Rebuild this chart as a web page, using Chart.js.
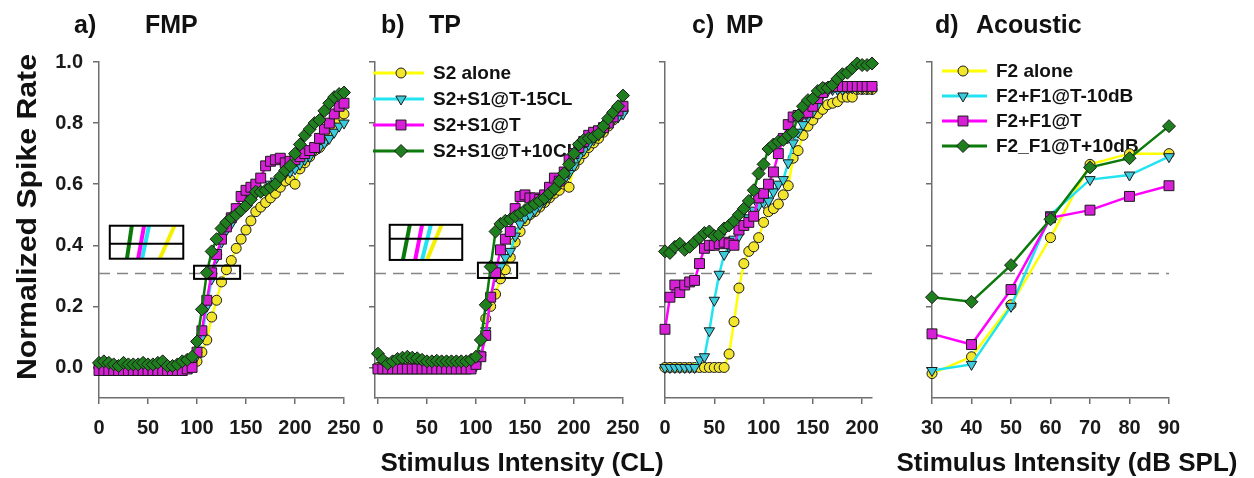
<!DOCTYPE html>
<html>
<head>
<meta charset="utf-8">
<script src="https://cdn.jsdelivr.net/npm/chart.js@4.4.1/dist/chart.umd.min.js"></script>
<style>
  html, body { margin: 0; padding: 0; background: #fff; }
  #wrap { position: relative; width: 1254px; height: 478px; overflow: hidden; font-family: "Liberation Sans", Arial, sans-serif; }
  #wrap canvas { position: absolute; left: 0; top: 0; }
  .lbl { position: absolute; font-weight: bold; color: #111; white-space: nowrap; line-height: 1; }
  .pt { font-size: 25px; top: 12px; }
  .xt { font-size: 26px; top: 449px; width: 500px; text-align: center; }
  .yt { font-size: 28px; width: 400px; text-align: center; left: -173px; top: 203px; transform: rotate(-90deg) scaleX(1.08); }
</style>
</head>
<body>
<div id="wrap">
  <canvas id="cFMP" width="1254" height="478"></canvas>
  <canvas id="cTP" width="1254" height="478"></canvas>
  <canvas id="cMP" width="1254" height="478"></canvas>
  <canvas id="cAc" width="1254" height="478"></canvas>

  <div class="lbl pt" style="left:74px">a)</div>
  <div class="lbl pt" style="left:145px">FMP</div>
  <div class="lbl pt" style="left:381px">b)</div>
  <div class="lbl pt" style="left:429px">TP</div>
  <div class="lbl pt" style="left:692px">c)</div>
  <div class="lbl pt" style="left:726px">MP</div>
  <div class="lbl pt" style="left:935px">d)</div>
  <div class="lbl pt" style="left:976px">Acoustic</div>

  <div class="lbl yt">Normalized Spike Rate</div>
  <div class="lbl xt" style="left:272px">Stimulus Intensity (CL)</div>
  <div class="lbl xt" style="left:817px">Stimulus Intensity (dB SPL)</div>
</div>

<script>
// ===============================
//   DATA
// ===============================
const xCL = [0,5,10,15,20,25,30,35,40,45,50,55,60,65,70,75,80,85,90,95,
             100,105,110,115,120,125,130,135,140,145,150,155,160,165,170,175,180,185,190,195,
             200,205,210,215,220,225,230,235,240,245,250];
const xMP = [0,5,10,15,20,25,30,35,40,45,50,55,60,65,70,75,80,85,90,95,
             100,105,110,115,120,125,130,135,140,145,150,155,160,165,170,175,180,185,190,195,
             200,205,210];
const xDB = [30,40,50,60,70,80,90];

// a) FMP
const fmpAlone = [0,0,0,0,0,0,0,0,0,0, 0,0,0,0,0,0,0,0,0,0.01,
  0.02,0.05,0.09,0.165,0.22,0.28,0.32,0.35,0.39,0.42,
  0.45,0.48,0.51,0.525,0.54,0.555,0.57,0.59,0.61,0.615,
  0.60,0.65,0.67,0.69,0.71,0.72,0.74,0.76,0.79,0.81, 0.83];
const fmpMinus15 = [0,0,0,0,0,0,0,0,0,0, 0,0,0,0,0,0,0,0,0,0.01,
  0.04,0.10,0.20,0.29,0.36,0.41,0.45,0.47,0.50,0.52,
  0.54,0.555,0.57,0.575,0.58,0.60,0.61,0.62,0.635,0.64,
  0.65,0.665,0.68,0.69,0.71,0.72,0.735,0.75,0.77,0.79, 0.80];
const fmpAtT = [-0.01,-0.01,-0.01,-0.01,-0.01,-0.01,-0.01,-0.01,-0.01,-0.01,
  -0.01,-0.01,-0.01,-0.01,-0.01,-0.01,-0.01,-0.01,-0.005,0.0,
  0.05,0.12,0.22,0.31,0.37,0.42,0.46,0.49,0.52,0.56,
  0.58,0.59,0.60,0.62,0.66,0.675,0.68,0.685,0.67,0.675,
  0.68,0.69,0.70,0.71,0.72,0.75,0.78,0.80,0.83,0.855, 0.865];
const fmpPlus10 = [0.015,0.02,0.015,0.01,0.005,0.015,0.01,0.01,0.01,0.015,
  0.01,0.01,0.015,0.02,0.005,0.005,0.01,0.02,0.025,0.035,
  0.085,0.19,0.31,0.38,0.42,0.455,0.475,0.49,0.50,0.515,
  0.53,0.55,0.575,0.575,0.58,0.59,0.60,0.625,0.645,0.66,
  0.70,0.73,0.76,0.78,0.80,0.81,0.84,0.865,0.885,0.895, 0.90];

// b) TP
const tpAlone = [0,0,0,0,0,0,0,0,0,0, 0,0,0,0,0,0,0,0,0,0,
  0.01,0.04,0.16,0.20,0.24,0.29,0.32,0.36,0.41,0.445,
  0.48,0.50,0.51,0.525,0.54,0.555,0.57,0.58,0.60,0.59,
  0.66,0.68,0.70,0.72,0.735,0.75,0.77,0.79,0.81,0.825, 0.84];
const tpMinus15 = [0,0,0,0,0,0,0,0,0,0, 0,0,0,0,0,0,0,0,0,0,
  0.005,0.04,0.12,0.23,0.30,0.33,0.36,0.38,0.43,0.47,
  0.49,0.50,0.515,0.53,0.545,0.56,0.58,0.60,0.615,0.635,
  0.66,0.69,0.71,0.73,0.745,0.76,0.775,0.795,0.81,0.82, 0.83];
const tpAtT = [-0.005,-0.005,-0.005,-0.005,-0.005,-0.005,-0.005,-0.005,-0.005,-0.005,
  -0.005,-0.005,-0.005,-0.005,-0.005,-0.005,-0.005,-0.005,-0.005,-0.005,
  0.01,0.035,0.105,0.23,0.31,0.385,0.42,0.445,0.52,0.56,
  0.565,0.555,0.555,0.55,0.565,0.59,0.62,0.61,0.64,0.68,
  0.70,0.72,0.74,0.76,0.77,0.775,0.785,0.80,0.82,0.84, 0.855];
const tpPlus10 = [0.045,0.025,0.012,0.02,0.028,0.032,0.035,0.032,0.03,0.025,
  0.02,0.02,0.022,0.02,0.02,0.02,0.02,0.02,0.02,0.025,
  0.035,0.09,0.205,0.33,0.445,0.47,0.48,0.485,0.495,0.505,
  0.515,0.525,0.535,0.545,0.555,0.57,0.585,0.61,0.635,0.665,
  0.70,0.73,0.745,0.75,0.755,0.765,0.79,0.815,0.835,0.855, 0.89];

// c) MP
const mpAlone = [0,0,0,0,0,0,0,0,0,0, 0,0,0,
  0.044,0.15,0.26,0.34,0.38,0.395,0.425,0.475,0.51,0.52,
  0.535,0.565,0.595,0.685,0.71,0.76,0.79,0.81,0.83,0.845,
  0.86,0.865,0.87,0.885,0.885,0.885,0.91,0.91,0.91,0.91];
const mpMinus15 = [0,0,0,0,0,0,0,
  0.025,0.035,0.12,0.22,0.305,0.37,0.395,0.42,0.43,0.465,
  0.49,0.515,0.53,0.54,0.545,0.575,0.60,0.615,0.67,0.735,
  0.77,0.795,0.82,0.835,0.86,0.895,0.905,0.91,0.91,0.91,
  0.915,0.915,0.915,0.915,0.915,0.915];
const mpAtT = [0.125,0.23,0.27,0.245,0.27,0.28,0.285,0.34,0.39,0.40,
  0.40,0.405,0.41,0.405,0.40,0.45,0.465,0.475,0.495,0.555,
  0.57,0.60,0.64,0.70,0.75,0.795,0.82,0.825,0.83,0.835,
  0.855,0.88,0.90,0.915,0.92,0.92,0.92,0.92,0.92,0.92,
  0.92,0.92,0.92];
const mpPlus10 = [0.38,0.375,0.395,0.405,0.385,0.395,0.41,0.425,0.44,0.445,
  0.43,0.435,0.455,0.465,0.48,0.50,0.52,0.545,0.58,0.635,
  0.665,0.715,0.73,0.74,0.745,0.76,0.77,0.825,0.855,0.875,
  0.88,0.905,0.915,0.915,0.925,0.945,0.96,0.965,0.98,0.995,
  0.99,0.99,0.995];

// d) Acoustic
const acAlone   = [-0.02, 0.035, 0.205, 0.425, 0.665, 0.70, 0.70];
const acMinus10 = [-0.01, 0.01, 0.20, 0.50, 0.615, 0.63, 0.69];
const acAtT     = [0.11, 0.075, 0.255, 0.49, 0.515, 0.56, 0.595];
const acPlus10  = [0.23, 0.215, 0.335, 0.485, 0.655, 0.685, 0.79];

const ticksY  = [0, 0.2, 0.4, 0.6, 0.8, 1.0];
const ticksCL = [0, 50, 100, 150, 200, 250];
const ticksMP = [0, 50, 100, 150, 200];
const ticksDB = [30, 40, 50, 60, 70, 80, 90];

const threshold = 0.31;

const legendCL = ["S2 alone", "S2+S1@T-15CL", "S2+S1@T", "S2+S1@T+10CL"];
const legendDB = ["F2 alone", "F2+F1@T-10dB", "F2+F1@T", "F2_F1@T+10dB"];

// magnified crossing insets (data units); lines follow series order: alone, -15, @T, +10
const insetFMP = { box: [11, 0.356, 86, 0.464], mid: 0.405, small: [97, 0.29, 144, 0.333],
  lines: [[62, 77], [44, 51], [40, 46], [28.5, 33.5]] };
const insetTP = { box: [12, 0.352, 86, 0.467], mid: 0.421, small: [102, 0.293, 142, 0.343],
  lines: [[50, 65], [45, 54], [38, 45], [25.5, 32.5]] };

// ===============================
//   STYLES
// ===============================
const FONT = "'Liberation Sans', Arial, sans-serif";
const series = [
  { line: "#ffff00", fill: "#f3e52b", shape: "circle", r: 5 },
  { line: "#22e3f0", fill: "#3ccbdc", shape: "triangle", r: 6, rot: 180 },
  { line: "#ff00ff", fill: "#d81fd8", shape: "rect", r: 7 },
  { line: "#0b7a0b", fill: "#1f7f1f", shape: "rectRot", r: 6.5 }
];
const lineOrder = [0, 1, 2, 3]; // inset strokes: magenta over cyan

function drawMarker(ctx, st, x, y) {
  const r = st.r;
  ctx.beginPath();
  if (st.shape === "circle") {
    ctx.arc(x, y, r, 0, Math.PI * 2);
  } else if (st.shape === "triangle") {
    ctx.moveTo(x - r * 0.866, y - r * 0.5);
    ctx.lineTo(x + r * 0.866, y - r * 0.5);
    ctx.lineTo(x, y + r);
    ctx.closePath();
  } else if (st.shape === "rect") {
    const h = r * Math.SQRT1_2;
    ctx.rect(x - h, y - h, 2 * h, 2 * h);
  } else {
    ctx.moveTo(x, y - r); ctx.lineTo(x + r, y); ctx.lineTo(x, y + r); ctx.lineTo(x - r, y);
    ctx.closePath();
  }
  ctx.fill();
  ctx.stroke();
}

// ===============================
//   DECOR PLUGIN
// ===============================
const decor = {
  id: "decor",
  beforeDatasetsDraw(chart, args, opts) {
    const { ctx, chartArea: a, scales: { y } } = chart;
    ctx.save();
    ctx.strokeStyle = "#858585";
    ctx.lineWidth = 1.5;
    ctx.setLineDash([11, 7]);
    const ty = Math.round(y.getPixelForValue(opts.threshold)) + 0.5;
    ctx.beginPath(); ctx.moveTo(a.left, ty); ctx.lineTo(a.right, ty); ctx.stroke();
    ctx.setLineDash([]);

    if (opts.legend) {
      const L = opts.legend;
      ctx.font = "bold 19px " + FONT;
      ctx.textBaseline = "middle";
      L.labels.forEach((txt, i) => {
        const st = series[i];
        const yy = a.top + L.rows[i];
        ctx.strokeStyle = st.line;
        ctx.lineWidth = 3;
        ctx.beginPath(); ctx.moveTo(a.left + L.x0, yy); ctx.lineTo(a.left + L.x1, yy); ctx.stroke();
        ctx.fillStyle = st.fill; ctx.strokeStyle = "#1a1a1a"; ctx.lineWidth = 1;
        drawMarker(ctx, st, a.left + L.mx, yy);
        ctx.fillStyle = "#111";
        ctx.fillText(txt, a.left + L.tx, yy + 1);
      });
    }
    ctx.restore();
  },
  afterDatasetsDraw(chart, args, opts) {
    if (!opts.inset) return;
    const { ctx, scales: { x, y } } = chart;
    const I = opts.inset;
    const px = v => x.getPixelForValue(v), py = v => y.getPixelForValue(v);
    ctx.save();
    // slanted coloured strokes inside the magnified box
    ctx.lineWidth = 4;
    lineOrder.forEach(k => {
      ctx.strokeStyle = k === 0 ? "#f5f000" : series[k].line;
      ctx.beginPath();
      ctx.moveTo(px(I.lines[k][0]), py(I.box[1]));
      ctx.lineTo(px(I.lines[k][1]), py(I.box[3]));
      ctx.stroke();
    });
    ctx.strokeStyle = "#000";
    ctx.lineWidth = 2;
    const b = I.box;
    ctx.strokeRect(px(b[0]), py(b[3]), px(b[2]) - px(b[0]), py(b[1]) - py(b[3]));
    ctx.beginPath(); ctx.moveTo(px(b[0]), py(I.mid)); ctx.lineTo(px(b[2]), py(I.mid)); ctx.stroke();
    const s = I.small;
    ctx.strokeRect(px(s[0]), py(s[3]), px(s[2]) - px(s[0]), py(s[1]) - py(s[3]));
    ctx.restore();
  }
};

// ===============================
//   PANEL BUILDER
// ===============================
function buildDatasets(xs, ys) {
  return ys.map((vals, i) => {
    const st = series[i];
    return {
      data: xs.map((xv, k) => ({ x: xv, y: vals[k] })),
      borderColor: st.line,
      borderWidth: 2.5,
      pointStyle: st.shape,
      pointRotation: st.rot || 0,
      pointRadius: st.r,
      pointBackgroundColor: st.fill,
      pointBorderColor: "#1a1a1a",
      pointBorderWidth: 1,
      tension: 0,
      clip: false,
      order: 4 - i
    };
  });
}

function makePanel(id, cfg) {
  const yW = cfg.yLabels ? 60 : 10;
  const axisGrid = { drawOnChartArea: false, drawTicks: true, tickLength: 6, color: "#6e6e6e", lineWidth: 1.5 };
  const axisBorder = { display: true, color: "#6e6e6e", width: 1.5 };
  const tickFont = { family: FONT, size: 20, weight: "bold" };

  return new Chart(document.getElementById(id), {
    type: "line",
    data: { datasets: buildDatasets(cfg.xs, cfg.ys) },
    options: {
      responsive: false,
      animation: false,
      events: [],
      layout: { padding: { left: cfg.left - yW, right: 1254 - cfg.right, top: 62, bottom: 40 } },
      plugins: {
        legend: { display: false },
        tooltip: { enabled: false },
        decor: { threshold: threshold, legend: cfg.legend, inset: cfg.inset }
      },
      scales: {
        x: {
          type: "linear",
          min: cfg.xmin, max: cfg.xmax,
          afterBuildTicks: s => { s.ticks = cfg.xticks.map(v => ({ value: v })); },
          afterFit: s => { s.height = 40; },
          ticks: { font: tickFont, color: "#1a1a1a", padding: 12, maxRotation: 0, autoSkip: false },
          grid: axisGrid,
          border: axisBorder
        },
        y: {
          type: "linear",
          min: -0.1, max: 1.0,
          afterBuildTicks: s => { s.ticks = ticksY.map(v => ({ value: v })); },
          afterFit: s => { s.width = yW; },
          ticks: { display: !!cfg.yLabels, font: tickFont, color: "#1a1a1a", padding: 10,
                   callback: v => Number(v).toFixed(1) },
          grid: axisGrid,
          border: axisBorder
        }
      }
    },
    plugins: [decor]
  });
}

makePanel("cFMP", {
  xs: xCL, ys: [fmpAlone, fmpMinus15, fmpAtT, fmpPlus10],
  left: 99, right: 344, xmin: 0, xmax: 250, xticks: ticksCL,
  yLabels: true, inset: insetFMP
});

makePanel("cTP", {
  xs: xCL, ys: [tpAlone, tpMinus15, tpAtT, tpPlus10],
  left: 375, right: 623, xmin: -3, xmax: 250, xticks: ticksCL,
  inset: insetTP,
  legend: { labels: legendCL, rows: [11, 37, 63, 89], x0: -2, x1: 49, mx: 26, tx: 58 }
});

makePanel("cMP", {
  xs: xMP, ys: [mpAlone, mpMinus15, mpAtT, mpPlus10],
  left: 665, right: 872, xmin: 0, xmax: 210, xticks: ticksMP
});

makePanel("cAc", {
  xs: xDB, ys: [acAlone, acMinus10, acAtT, acPlus10],
  left: 932, right: 1169, xmin: 30, xmax: 90, xticks: ticksDB,
  legend: { labels: legendDB, rows: [9, 34, 59, 84], x0: 10, x1: 55, mx: 31, tx: 64 }
});
</script>
</body>
</html>
